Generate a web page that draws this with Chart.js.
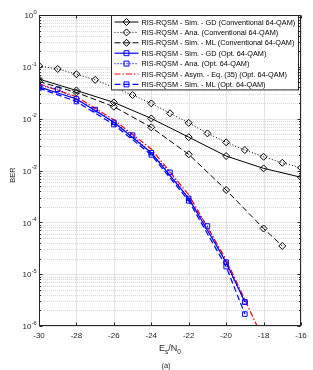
<!DOCTYPE html>
<html>
<head>
<meta charset="utf-8">
<script src="https://cdn.jsdelivr.net/npm/chart.js@4.4.1/dist/chart.umd.min.js"></script>
<style>
    html, body { margin: 0; padding: 0; background: #fff; }
    #wrap { width: 313px; height: 370px; }
</style>
</head>
<body>
<div id="wrap"><canvas id="berChart" width="313" height="370"></canvas></div>
<script>
// Ejes
const snrTicks = [-30, -28, -26, -24, -22, -20, -18, -16];
const berDecades = [1e-6, 1e-5, 1e-4, 1e-3, 1e-2, 1e-1, 1];

// Convencional 64-QAM
const convGdSnr = [-30, -28, -26, -24, -22, -20, -18, -16];
const convGdBer = [0.058, 0.035, 0.0206, 0.0101, 0.0044, 0.0019, 0.0011, 0.00074];

const convAnaSnr = [-30, -29, -28, -27, -25, -24, -23, -22, -21, -20, -19, -18, -17, -16];
const convAnaBer = [0.105, 0.091, 0.072, 0.056, 0.0286, 0.0197, 0.0127, 0.0083, 0.0052, 0.0035, 0.00248, 0.00184, 0.00141, 0.00113];

const convMlSnr = [-30, -28, -26, -24, -22, -20, -18, -17];
const convMlBer = [0.052, 0.032, 0.017, 0.0068, 0.00205, 0.00042, 7.6e-5, 3.5e-5];

// Opt. 64-QAM
const optGdSnr = [-30, -28, -26, -24, -22, -20, -19];
const optGdBer = [0.041, 0.024, 0.0085, 0.0022, 2.9e-4, 1.7e-5, 2.9e-6];

const optAnaSnr = [-30, -29, -27, -25, -23, -21, -19];
const optAnaBer = [0.044, 0.037, 0.015, 0.0048, 9.2e-4, 8.5e-5, 2.9e-6];

const optAsymSnr = [-30, -28, -26, -24, -22, -20, -19, -18];
const optAsymBer = [0.047, 0.0265, 0.0095, 0.0026, 3.4e-4, 1.9e-5, 3.2e-6, 5.4e-7];

const optMlSnr = [-30, -28, -26, -24, -22, -20, -19];
const optMlBer = [0.039, 0.0214, 0.0077, 0.002, 2.6e-4, 1.4e-5, 1.7e-6];

const FONT = '"Liberation Sans", Arial, Helvetica, sans-serif';
const AXIS_COLOR = '#262626';

function toPoints(xs, ys) {
    return xs.map((x, i) => ({ x: x, y: ys[i] }));
}

function series(label, xs, ys, color, dash, style, width, radius) {
    return {
        label: label,
        data: toPoints(xs, ys),
        borderColor: color,
        backgroundColor: color,
        borderWidth: width,
        borderDash: dash,
        pointStyle: style,
        pointRadius: radius,
        pointBorderColor: color,
        pointBackgroundColor: 'rgba(0,0,0,0)',
        pointBorderWidth: 1,
        tension: 0,
        fill: false
    };
}

// Grid estilo MATLAB
const gridPlugin = {
    id: 'matlabGrid',
    beforeDatasetsDraw(chart) {
        const { ctx, chartArea: a, scales } = chart;
        ctx.save();
        // líneas menores (punteadas)
        ctx.strokeStyle = '#d8d8d8';
        ctx.lineWidth = 1;
        ctx.setLineDash([1, 1]);
        berDecades.slice(0, -1).forEach(d => {
            for (let m = 2; m <= 9; m++) {
                const y = Math.round(scales.y.getPixelForValue(d * m)) + 0.5;
                ctx.beginPath();
                ctx.moveTo(a.left, y);
                ctx.lineTo(a.right, y);
                ctx.stroke();
            }
        });
        // líneas mayores
        ctx.setLineDash([]);
        ctx.strokeStyle = '#e4e4e4';
        berDecades.forEach(d => {
            const y = Math.round(scales.y.getPixelForValue(d)) + 0.5;
            ctx.beginPath();
            ctx.moveTo(a.left, y);
            ctx.lineTo(a.right, y);
            ctx.stroke();
        });
        snrTicks.forEach(v => {
            const x = Math.round(scales.x.getPixelForValue(v)) + 0.5;
            ctx.beginPath();
            ctx.moveTo(x, a.top);
            ctx.lineTo(x, a.bottom);
            ctx.stroke();
        });
        ctx.restore();
    },
    afterDatasetsDraw(chart) {
        const { ctx, chartArea: a, scales } = chart;
        const l = Math.round(a.left) + 0.5, r = Math.round(a.right) - 0.5;
        const t = Math.round(a.top) + 0.5, b = Math.round(a.bottom) - 0.5;
        ctx.save();
        ctx.strokeStyle = AXIS_COLOR;
        ctx.lineWidth = 1;
        ctx.strokeRect(l, t, r - l, b - t);
        // marcas internas
        ctx.beginPath();
        snrTicks.forEach(v => {
            const x = Math.round(scales.x.getPixelForValue(v)) + 0.5;
            ctx.moveTo(x, b); ctx.lineTo(x, b - 3);
            ctx.moveTo(x, t); ctx.lineTo(x, t + 3);
        });
        berDecades.forEach(d => {
            const y = Math.round(scales.y.getPixelForValue(d)) + 0.5;
            ctx.moveTo(l, y); ctx.lineTo(l + 3, y);
            ctx.moveTo(r, y); ctx.lineTo(r - 3, y);
            if (d < 1) {
                for (let m = 2; m <= 9; m++) {
                    const ym = Math.round(scales.y.getPixelForValue(d * m)) + 0.5;
                    ctx.moveTo(l, ym); ctx.lineTo(l + 1.5, ym);
                    ctx.moveTo(r, ym); ctx.lineTo(r - 1.5, ym);
                }
            }
        });
        ctx.stroke();

        // etiquetas 10^n del eje Y (posiciones tomadas de la escala)
        ctx.fillStyle = AXIS_COLOR;
        ctx.textBaseline = 'middle';
        ctx.textAlign = 'left';
        const big = '8px ' + FONT, small = '5.8px ' + FONT;
        scales.y.ticks.forEach(tk => {
            const y = scales.y.getPixelForValue(tk.value);
            const exp = String(Math.round(Math.log10(tk.value)));
            ctx.font = big;
            const wBase = ctx.measureText('10').width;
            ctx.font = small;
            const wExp = ctx.measureText(exp).width;
            const x0 = a.left - 2.5 - wBase - wExp;
            ctx.font = big;
            ctx.fillText('10', x0, y + 1);
            ctx.font = small;
            ctx.fillText(exp, x0 + wBase + 0.3, y - 2.8);
        });
        ctx.restore();
    }
};

// Leyenda estilo MATLAB
const legendPlugin = {
    id: 'matlabLegend',
    afterDatasetsDraw(chart) {
        const { ctx, chartArea: a } = chart;
        const left = 111.5, top = Math.round(a.top) + 0.5;
        const right = Math.round(a.right) - 2.5, rowH = 10.4;
        const datasets = chart.data.datasets;
        const bottom = top + 6.5 + rowH * (datasets.length - 1) + 5.5;
        ctx.save();
        ctx.fillStyle = '#fff';
        ctx.fillRect(left, top, right - left, bottom - top);
        ctx.strokeStyle = AXIS_COLOR;
        ctx.lineWidth = 1;
        ctx.strokeRect(left, top, right - left, bottom - top);
        ctx.font = '7.3px ' + FONT;
        ctx.textBaseline = 'middle';
        ctx.textAlign = 'left';
        datasets.forEach((ds, i) => {
            const y = top + 6.5 + rowH * i;
            ctx.save();
            ctx.strokeStyle = ds.borderColor;
            ctx.lineWidth = ds.borderWidth;
            ctx.setLineDash(ds.borderDash || []);
            ctx.beginPath();
            ctx.moveTo(left + 3, y);
            ctx.lineTo(left + 27, y);
            ctx.stroke();
            ctx.restore();
            if (ds.pointStyle) {
                ctx.save();
                ctx.strokeStyle = ds.borderColor;
                ctx.fillStyle = 'rgba(0,0,0,0)';
                ctx.lineWidth = 1;
                Chart.helpers.drawPoint(ctx, { pointStyle: ds.pointStyle, radius: 3.5, borderWidth: 1, rotation: 0 }, left + 15, y);
                ctx.restore();
            }
            ctx.fillStyle = '#000';
            ctx.fillText(ds.label, left + 30, y + 0.5);
        });
        ctx.restore();
    }
};

// Títulos de ejes
const labelsPlugin = {
    id: 'axisLabels',
    afterDraw(chart) {
        const { ctx, chartArea: a } = chart;
        ctx.save();
        ctx.fillStyle = AXIS_COLOR;
        ctx.textBaseline = 'alphabetic';
        // BER
        ctx.save();
        ctx.translate(14.5, 175);
        ctx.rotate(-Math.PI / 2);
        ctx.font = '7.5px ' + FONT;
        ctx.textAlign = 'center';
        ctx.fillText('BER', 0, 0);
        ctx.restore();
        // Es/N0
        const big = '9px ' + FONT, small = '6.5px ' + FONT;
        const parts = [['E', big, 0], ['s', small, 2.5], ['/N', big, 0], ['0', small, 2.5]];
        let total = 0;
        parts.forEach(p => { ctx.font = p[1]; total += ctx.measureText(p[0]).width; });
        let x = (a.left + a.right) / 2 - total / 2;
        const base = 351;
        ctx.textAlign = 'left';
        parts.forEach(p => {
            ctx.font = p[1];
            ctx.fillText(p[0], x, base + p[2]);
            x += ctx.measureText(p[0]).width;
        });
        // (a)
        ctx.font = '7.5px ' + FONT;
        ctx.textAlign = 'center';
        ctx.fillText('(a)', 166, 368);
        ctx.restore();
    }
};

document.addEventListener('DOMContentLoaded', () => {
    const ctx = document.getElementById('berChart');
    new Chart(ctx, {
        type: 'line',
        data: {
            datasets: [
                series('RIS-RQSM - Sim. - GD (Conventional 64-QAM)', convGdSnr, convGdBer, '#000', [], 'rectRot', 1, 3.5),
                series('RIS-RQSM - Ana. (Conventional 64-QAM)', convAnaSnr, convAnaBer, '#000', [1, 2], 'rectRot', 1, 3.5),
                series('RIS-RQSM - Sim. - ML (Conventional 64-QAM)', convMlSnr, convMlBer, '#000', [6, 3], 'rectRot', 1, 3.5),
                series('RIS-RQSM - Sim. - GD (Opt. 64-QAM)', optGdSnr, optGdBer, '#0000ff', [], 'rect', 1.2, 3.2),
                series('RIS-RQSM - Ana. (Opt. 64-QAM)', optAnaSnr, optAnaBer, '#0000ff', [1, 2], 'rect',
                    1.2, optAnaSnr.map((v, i) => i === 0 ? 0 : 3.2)),
                series('RIS-RQSM - Asym. - Eq. (35) (Opt. 64-QAM)', optAsymSnr, optAsymBer, '#ff0000', [6, 2, 1.5, 2], false, 1.2, 0),
                series('RIS-RQSM - Sim. - ML (Opt. 64-QAM)', optMlSnr, optMlBer, '#0000ff', [6, 3], 'rect', 1.2, 3.2)
            ]
        },
        options: {
            responsive: false,
            animation: false,
            layout: { padding: { left: 0, right: 12, top: 15, bottom: 0 } },
            plugins: {
                legend: { display: false },
                tooltip: { enabled: false }
            },
            scales: {
                x: {
                    type: 'linear',
                    min: -30,
                    max: -16,
                    grid: { display: false, drawTicks: false, tickLength: 0 },
                    border: { display: false },
                    ticks: {
                        color: AXIS_COLOR,
                        font: { family: FONT, size: 8 },
                        padding: 5,
                        autoSkip: false,
                        maxRotation: 0,
                        callback: v => String(v)
                    },
                    afterBuildTicks: s => { s.ticks = snrTicks.map(v => ({ value: v })); },
                    afterFit: s => { s.height = 44; }
                },
                y: {
                    type: 'logarithmic',
                    min: 1e-6,
                    max: 1,
                    grid: { display: false, drawTicks: false, tickLength: 0 },
                    border: { display: false },
                    ticks: { display: false },
                    afterBuildTicks: s => { s.ticks = berDecades.map(v => ({ value: v })); },
                    afterFit: s => { s.width = 39; }
                }
            }
        },
        plugins: [gridPlugin, legendPlugin, labelsPlugin]
    });
});
</script>
</body>
</html>
